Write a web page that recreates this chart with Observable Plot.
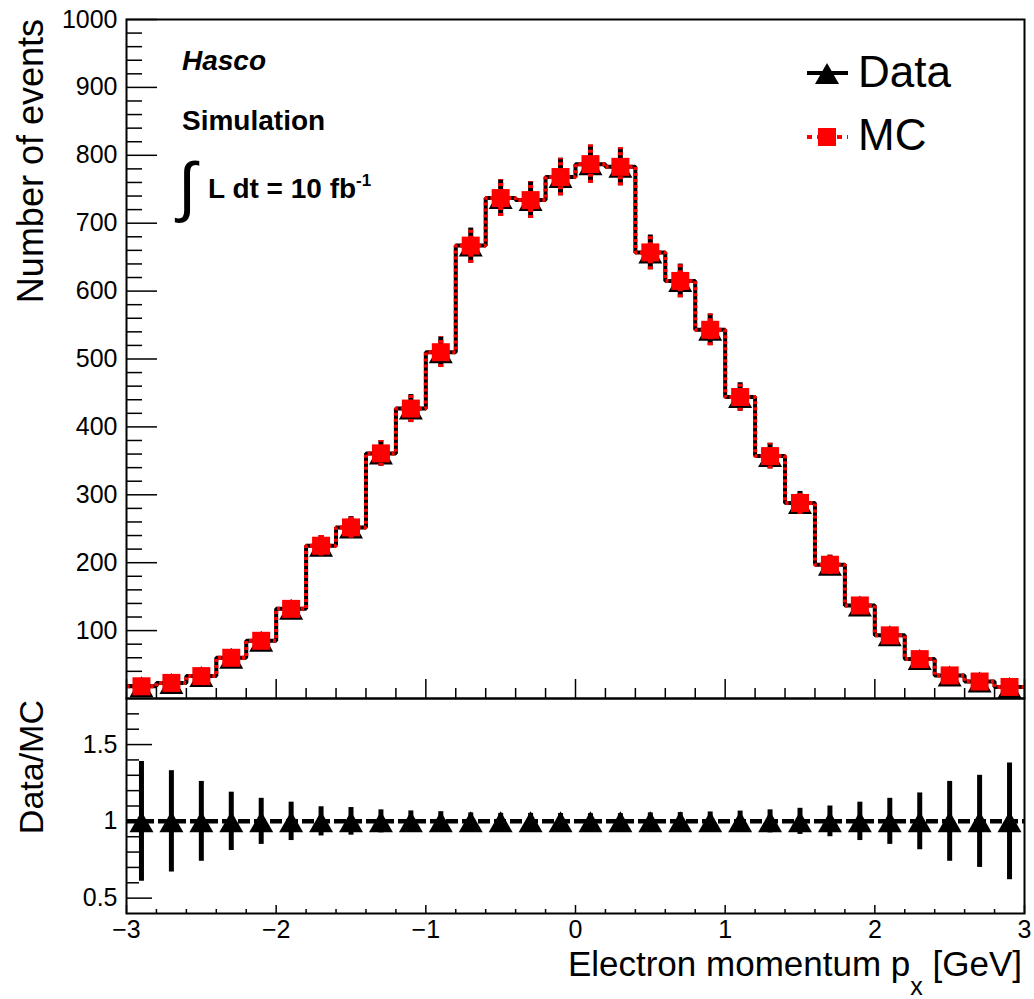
<!DOCTYPE html>
<html>
<head>
<meta charset="utf-8">
<script src="https://cdn.jsdelivr.net/npm/d3@7"></script>
<script src="https://cdn.jsdelivr.net/npm/@observablehq/plot@0.6"></script>
<style>
  body { margin: 0; background: #fff; }
  #chart { position: relative; width: 1034px; height: 999px; background: #fff; }
  #chart svg { position: absolute; left: 0; overflow: visible; }
</style>
</head>
<body>
<div id="chart"></div>
<script>
// Histogram bins: electron momentum p_x, 30 bins of 0.2 GeV from -3 to 3
const binCenters = [-2.9, -2.7, -2.5, -2.3, -2.1, -1.9, -1.7, -1.5, -1.3, -1.1,
                    -0.9, -0.7, -0.5, -0.3, -0.1, 0.1, 0.3, 0.5, 0.7, 0.9,
                    1.1, 1.3, 1.5, 1.7, 1.9, 2.1, 2.3, 2.5, 2.7, 2.9];
const dataCounts = [18, 23, 33, 60, 85, 132, 225, 252, 361, 427,
                    510, 667, 737, 734, 768, 787, 783, 657, 615, 543,
                    444, 357, 288, 197, 137, 93, 58, 34, 25, 17];
const mcCounts   = [18, 23, 33, 60, 85, 132, 225, 252, 361, 427,
                    510, 667, 737, 734, 768, 787, 783, 657, 615, 543,
                    444, 357, 288, 197, 137, 93, 58, 34, 25, 17];
// Uncertainty on the Data/MC ratio per bin
const ratioErrors = [0.39, 0.33, 0.26, 0.19, 0.15, 0.125, 0.095, 0.09, 0.075, 0.068,
                     0.063, 0.055, 0.052, 0.052, 0.051, 0.05, 0.05, 0.055, 0.057, 0.061,
                     0.067, 0.075, 0.085, 0.1, 0.125, 0.15, 0.185, 0.26, 0.3, 0.38];
const binWidth = 0.2;
const xRange = [-3, 3];
const countRange = [0, 1000];
const ratioRange = [0.4, 1.8];
const countTicks = [100, 200, 300, 400, 500, 600, 700, 800, 900, 1000];
const ratioTicks = [0.5, 1, 1.5];
const xTicks = [-3, -2, -1, 0, 1, 2, 3];

const FONT = "'Liberation Sans', Arial, Helvetica, sans-serif";
const W = 1034;
const ML = 126, MR = 10;
const plotW = W - ML - MR;

// Minor tick positions
const countMinor = d3.range(1, 50).map(i => i * 20).filter(v => v % 100 !== 0);
const ratioMinor = d3.range(5, 18).map(i => i / 10).filter(v => !ratioTicks.includes(v));
const xMinor = d3.range(-14, 15).filter(i => i % 5 !== 0).map(i => i / 5);

// ROOT-style marker shapes
const triangleSym = {draw(ctx) { ctx.moveTo(0, -10); ctx.lineTo(12, 11); ctx.lineTo(-12, 11); ctx.closePath(); }};
const squareSym = {draw(ctx) { ctx.rect(-9, -9, 18, 18); }};

const dataRows = binCenters.map((x, i) => ({x, y: dataCounts[i], e: Math.sqrt(dataCounts[i])}));
const mcRows = binCenters.map((x, i) => ({x, y: mcCounts[i], e: Math.sqrt(mcCounts[i])}));
const ratioRows = binCenters.map((x, i) => ({x, r: dataCounts[i] / mcCounts[i], e: ratioErrors[i]}));

// Step outlines built from the bin lower edges plus the last upper edge
const stepOf = counts => binCenters.map((c, i) => ({x: c - binWidth / 2, y: counts[i]}))
  .concat([{x: binCenters[binCenters.length - 1] + binWidth / 2, y: counts[counts.length - 1]}]);

const minus = d => (d < 0 ? "\u2212" + (-d) : String(d));
const lineStyle = {strokeLinecap: "butt", strokeLinejoin: "miter"};

// ---------- Upper panel: event counts ----------
const mainH = 699, mainMT = 19, mainMB = 1;
const mainPH = mainH - mainMT - mainMB;
const main = Plot.plot({
  width: W, height: mainH,
  marginLeft: ML, marginRight: MR, marginTop: mainMT, marginBottom: mainMB,
  x: {domain: xRange, axis: null},
  y: {domain: countRange, label: null},
  style: {fontFamily: FONT, fontSize: "25px", color: "black", background: "transparent"},
  marks: [
    Plot.axisY({ticks: countTicks, tickSize: 0, tickPadding: 9, tickFormat: d => String(d), label: null, fontSize: 25}),
    Plot.tickY(countTicks, {y: d => d, insetRight: plotW - 31, stroke: "black", strokeWidth: 1.5}),
    Plot.tickY(countMinor, {y: d => d, insetRight: plotW - 16, stroke: "black", strokeWidth: 1.5}),
    Plot.tickX(xTicks, {x: d => d, insetTop: mainPH - 19, stroke: "black", strokeWidth: 1.5}),
    Plot.tickX(xMinor, {x: d => d, insetTop: mainPH - 10, stroke: "black", strokeWidth: 1.5}),
    // Data
    Plot.line(stepOf(dataCounts), {x: "x", y: "y", curve: "step-after", stroke: "black", strokeWidth: 4, ...lineStyle}),
    Plot.ruleX(dataRows, {x: "x", y1: d => d.y - d.e, y2: d => d.y + d.e, stroke: "black", strokeWidth: 5, ...lineStyle}),
    Plot.dot(dataRows, {x: "x", y: "y", symbol: triangleSym, fill: "black", stroke: "none"}),
    // MC
    Plot.line(stepOf(mcCounts), {x: "x", y: "y", curve: "step-after", stroke: "#ff0000", strokeWidth: 4, strokeDasharray: "3,3", ...lineStyle}),
    Plot.ruleX(mcRows, {x: "x", y1: d => d.y - d.e, y2: d => d.y + d.e, stroke: "#ff0000", strokeWidth: 5, strokeDasharray: "3,3", ...lineStyle}),
    Plot.dot(mcRows, {x: "x", y: "y", symbol: squareSym, fill: "#ff0000", stroke: "none"}),
    Plot.frame({stroke: "black", strokeWidth: 2})
  ]
});
main.style.top = "0px";

// ---------- Lower panel: Data/MC ratio ----------
const ratH = 301, ratMT = 0, ratMB = 86;
const ratPH = ratH - ratMT - ratMB;
const ratio = Plot.plot({
  width: W, height: ratH,
  marginLeft: ML, marginRight: MR, marginTop: ratMT, marginBottom: ratMB,
  x: {domain: xRange, label: null},
  y: {domain: ratioRange, label: null},
  style: {fontFamily: FONT, fontSize: "25px", color: "black", background: "transparent"},
  marks: [
    Plot.axisX({ticks: xTicks, tickSize: 0, tickPadding: 7, tickFormat: minus, label: null, fontSize: 25}),
    Plot.axisY({ticks: ratioTicks, tickSize: 0, tickPadding: 9, tickFormat: d => String(d), label: null, fontSize: 25}),
    Plot.tickY(ratioTicks, {y: d => d, insetRight: plotW - 26, stroke: "black", strokeWidth: 1.5}),
    Plot.tickY(ratioMinor, {y: d => d, insetRight: plotW - 13, stroke: "black", strokeWidth: 1.5}),
    Plot.tickX(xTicks, {x: d => d, insetTop: ratPH - 8, stroke: "black", strokeWidth: 1.5}),
    Plot.tickX(xMinor, {x: d => d, insetTop: ratPH - 4, stroke: "black", strokeWidth: 1.5}),
    Plot.ruleY([1], {stroke: "black", strokeWidth: 4.5, strokeDasharray: "12,4", ...lineStyle}),
    Plot.ruleX(ratioRows, {x: "x", y1: d => d.r - d.e, y2: d => d.r + d.e, stroke: "black", strokeWidth: 5, ...lineStyle}),
    Plot.dot(ratioRows, {x: "x", y: "r", symbol: triangleSym, fill: "black", stroke: "none"}),
    Plot.frame({stroke: "black", strokeWidth: 2})
  ]
});
ratio.style.top = (mainH - 1) + "px";

const chart = document.getElementById("chart");
chart.append(main, ratio);

// ---------- Titles, labels and legend ----------
const ms = d3.select(main);
const rs = d3.select(ratio);
const addText = (sel, attrs) => {
  const t = sel.append("text").attr("text-anchor", "start").attr("fill", "black")
    .style("font-family", FONT);
  for (const [k, v] of Object.entries(attrs)) t.attr(k, v);
  return t;
};

addText(ms, {transform: "translate(43,19) rotate(-90)", "text-anchor": "end", "font-size": 36})
  .text("Number of events");

addText(rs, {transform: "translate(43,2) rotate(-90)", "text-anchor": "end", "font-size": 34})
  .text("Data/MC");

const xt = addText(rs, {x: 1022, y: 278, "text-anchor": "end", "font-size": 35});
xt.append("tspan").text("Electron momentum p");
xt.append("tspan").attr("font-size", 25).attr("dy", 19).text("x");
xt.append("tspan").attr("dy", -19).text(" [GeV]");

// Experiment labels
addText(ms, {x: 182, y: 70, "font-size": 28, "font-weight": "bold", "font-style": "italic"}).text("Hasco");
addText(ms, {x: 182, y: 130, "font-size": 28, "font-weight": "bold"}).text("Simulation");
addText(ms, {x: 178, y: 209, "font-size": 66}).text("\u222B");
const lumi = addText(ms, {x: 208, y: 198, "font-size": 28, "font-weight": "bold"});
lumi.append("tspan").text("L dt = 10 fb");
lumi.append("tspan").attr("font-size", 17).attr("dy", -12).text("-1");

// Legend
const leg = ms.append("g");
const symPath = s => d3.symbol(s)();
leg.append("line").attr("x1", 807).attr("x2", 848).attr("y1", 73).attr("y2", 73)
  .attr("stroke", "black").attr("stroke-width", 4);
leg.append("path").attr("d", symPath(triangleSym)).attr("transform", "translate(827,73)").attr("fill", "black");
addText(leg, {x: 858, y: 87, "font-size": 44}).text("Data");
leg.append("line").attr("x1", 807).attr("x2", 848).attr("y1", 137).attr("y2", 137)
  .attr("stroke", "#ff0000").attr("stroke-width", 4).attr("stroke-dasharray", "5,5");
leg.append("path").attr("d", symPath(squareSym)).attr("transform", "translate(827,137)").attr("fill", "#ff0000");
addText(leg, {x: 858, y: 150, "font-size": 44}).text("MC");
</script>
</body>
</html>
